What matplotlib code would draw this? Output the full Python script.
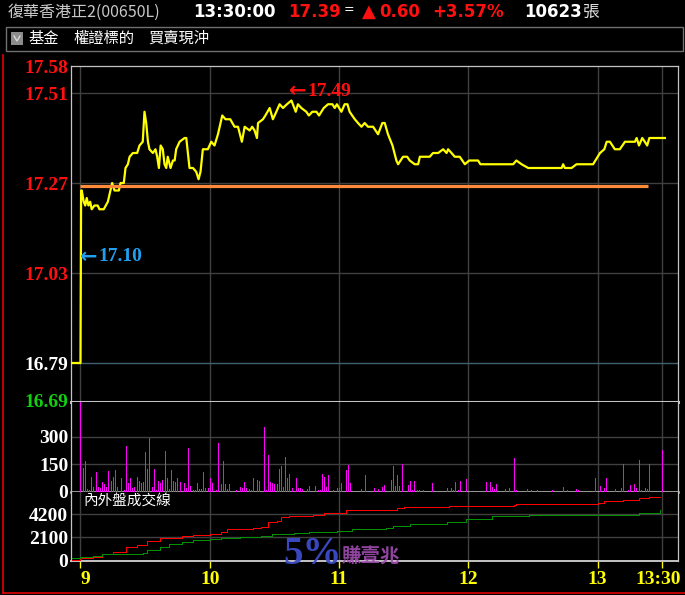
import matplotlib.pyplot as plt
import matplotlib.transforms as mtransforms
from matplotlib.patches import Rectangle
from matplotlib.lines import Line2D

plt.rcParams['font.family'] = ['DejaVu Sans', 'Noto Sans CJK TC']

# minutes after 09:00
price_t = [-4, 0, 0.3, 0.6, 1.5, 2.2, 2.9, 3.7, 4.5, 5.2,
           6.5, 8.0, 8.8, 10.8, 12.7, 13.9, 14.7, 15.8, 17.8, 18.6,
           20.1, 20.9, 22.0, 22.8, 24.3, 26.3, 27.4, 28.9, 29.7, 30.5,
           31.3, 32.0, 33.6, 34.8, 35.6, 36.4, 37.2, 38.2, 39.0, 39.8,
           40.5, 41.8, 42.9, 43.7, 44.4, 46.0, 48.3, 49.1, 50.6, 52.2,
           53.7, 54.8, 55.7, 56.8, 59.1, 60.7, 62.2, 63.8, 65.8, 67.3,
           69.5, 71.5, 73.1, 74.9, 76.2, 78.5, 79.7, 80.8, 81.9, 82.4,
           84.7, 85.8, 87.8, 89.3, 90.9, 92.4, 94.0, 95.8, 97.9, 99.9,
           100.9, 102.5, 104.8, 106.0, 107.6, 109.5, 110.7, 112.9, 114.9, 116.9,
           118.0, 119.0, 121.1, 122.6, 123.9, 124.9, 127.3, 128.8, 130.4, 131.9,
           133.4, 135.8, 138.1, 140.1, 141.2, 142.7, 144.8, 146.6, 147.4, 149.7,
           151.6, 152.8, 155.1, 156.7, 157.5, 162.1, 163.6, 166.0, 168.3, 169.9,
           170.6, 172.2, 173.7, 176.0, 178.4, 180.4, 184.5, 185.6, 200.8, 202.3,
           204.7, 207.8, 223.3, 224.0, 224.8, 227.9, 230.2, 237.9, 241.1, 243.1,
           244.2, 245.7, 248.0, 250.3, 252.7, 257.3, 258.1, 259.2, 260.7, 261.9,
           263.0, 264.0, 269.7, 270.2, 271.2]
price_v = [16.79, 16.79, 17.25, 17.25, 17.22, 17.21, 17.23, 17.21, 17.22, 17.20,
           17.21, 17.21, 17.20, 17.20, 17.22, 17.25, 17.27, 17.25, 17.25, 17.27,
           17.27, 17.31, 17.32, 17.34, 17.35, 17.35, 17.37, 17.38, 17.46, 17.43,
           17.38, 17.36, 17.35, 17.36, 17.34, 17.31, 17.37, 17.36, 17.32, 17.31,
           17.34, 17.31, 17.33, 17.33, 17.36, 17.38, 17.39, 17.39, 17.31, 17.31,
           17.30, 17.28, 17.30, 17.36, 17.36, 17.38, 17.37, 17.40, 17.45, 17.44,
           17.44, 17.42, 17.42, 17.38, 17.42, 17.41, 17.42, 17.41, 17.39, 17.43,
           17.44, 17.45, 17.47, 17.44, 17.46, 17.48, 17.47, 17.48, 17.49, 17.46,
           17.48, 17.47, 17.46, 17.45, 17.46, 17.46, 17.45, 17.47, 17.48, 17.48,
           17.47, 17.48, 17.46, 17.48, 17.48, 17.46, 17.44, 17.43, 17.42, 17.43,
           17.42, 17.42, 17.40, 17.43, 17.43, 17.40, 17.37, 17.33, 17.32, 17.34,
           17.34, 17.33, 17.32, 17.32, 17.34, 17.34, 17.35, 17.35, 17.36, 17.35,
           17.36, 17.35, 17.34, 17.34, 17.32, 17.33, 17.33, 17.32, 17.32, 17.33,
           17.32, 17.31, 17.31, 17.32, 17.31, 17.31, 17.32, 17.32, 17.35, 17.36,
           17.38, 17.38, 17.36, 17.36, 17.38, 17.38, 17.39, 17.37, 17.39, 17.38,
           17.37, 17.39, 17.39, 17.39, 17.39]

avg_price = 17.262
avg_end = 263.5
prev_close = 16.79
high_t, high_p = 97.9, 17.49
low_t, low_p = 0, 17.10

vol_t = [0, 1, 2, 3, 4, 5, 6, 7, 8, 9, 10, 11, 12, 13, 14, 15, 16, 17, 19, 20,
         21, 22, 23, 24, 25, 26, 27, 28, 29, 30, 31, 32, 33, 34, 35, 36, 37, 38, 39, 40,
         41, 42, 43, 44, 45, 46, 48, 49, 50, 51, 52, 53, 54, 55, 56, 57, 58, 59, 60, 61,
         63, 64, 65, 66, 67, 68, 69, 72, 74, 75, 76, 77, 78, 79, 80, 82, 83, 85, 86, 87,
         88, 89, 90, 91, 92, 93, 94, 95, 96, 97, 98, 100, 101, 102, 103, 105, 106, 109, 110, 111,
         112, 113, 114, 115, 117, 119, 120, 121, 123, 124, 125, 130, 132, 136, 138, 140, 141, 144, 145, 146,
         147, 148, 149, 152, 153, 154, 155, 156, 157, 159, 163, 170, 172, 173, 174, 175, 176, 179, 188, 190,
         191, 192, 193, 197, 199, 201, 202, 207, 209, 212, 219, 224, 226, 230, 231, 239, 241, 243, 244, 248,
         251, 252, 254, 255, 257, 258, 259, 260, 262, 263, 264, 270]
vol_v = [600, 126, 167, 9, 6, 76, 20, 106, 20, 15, 50, 39, 20, 111, 56, 80, 117, 20, 74, 6,
         250, 43, 70, 15, 20, 80, 56, 43, 50, 217, 124, 294, 20, 124, 6, 56, 43, 63, 224, 70,
         13, 117, 56, 50, 70, 50, 46, 15, 239, 28, 6, 6, 46, 13, 13, 106, 17, 17, 70, 46,
         6, 267, 37, 167, 37, 13, 37, 6, 22, 17, 50, 17, 13, 6, 70, 63, 56, 356, 6, 200,
         50, 46, 37, 37, 124, 141, 22, 189, 70, 96, 17, 70, 17, 17, 13, 13, 30, 30, 6, 6,
         96, 80, 22, 87, 6, 17, 17, 46, 117, 144, 43, 13, 89, 17, 13, 20, 33, 61, 139, 30,
         89, 30, 150, 35, 57, 6, 57, 6, 6, 6, 46, 15, 15, 6, 52, 6, 57, 67, 52, 52,
         24, 13, 41, 9, 15, 183, 6, 11, 6, 6, 6, 24, 6, 9, 6, 72, 30, 15, 72, 9,
         15, 150, 6, 33, 41, 15, 172, 6, 15, 9, 150, 228]

out_t = [-4, 0, 6, 10, 15, 21, 26, 31, 37, 41, 47, 52, 60, 65, 68, 80, 84, 87, 91, 93,
         97, 108, 113, 123, 147, 150, 171, 201, 202, 238, 240, 243, 252, 259, 264, 269]
out_v = [0, 150, 300, 520, 760, 1160, 1370, 1760, 1980, 2040, 2190, 2280, 2370, 2580, 2800, 2900, 3040, 3500, 3590, 3900,
         4050, 4110, 4260, 4560, 4720, 4810, 4930, 5020, 5110, 5110, 5230, 5390, 5480, 5630, 5720, 5720]
in_t = [-4, 0, 6, 10, 21, 29, 31, 37, 41, 47, 52, 60, 65, 74, 84, 89, 99, 106, 119, 126,
        142, 145, 153, 170, 179, 191, 208, 253, 259, 264, 269]
in_v = [150, 300, 390, 520, 550, 670, 910, 1160, 1430, 1670, 1830, 1920, 2040, 2130, 2190, 2370, 2430, 2580, 2680, 2800,
        2900, 3100, 3290, 3500, 3770, 3990, 4110, 4110, 4260, 4320, 4560]

grid_t = [0, 60, 120, 180, 240, 270]
time_labels = ['9', '10', '11', '12', '13', '13:30']
price_ticks = [17.58, 17.51, 17.27, 17.03, 16.79, 16.69]
price_tick_colors = ['#ff1010', '#ff1010', '#ff1010', '#ff1010', '#ffffff', '#10d010']
vol_ticks = [0, 150, 300]
io_ticks = [0, 2100, 4200]

W, H = 685, 595


def fx(x):
    return x / W


def fy(y):
    return 1 - y / H


GRID = '#404040'
FRAME = '#c4c4c4'
num_font = dict(family=['Liberation Serif', 'DejaVu Sans'], weight='bold', size=14)
arrow_font = dict(family='DejaVu Sans', weight='bold', size=15)

fig = plt.figure(figsize=(6.85, 5.95), dpi=100, facecolor='black')
left, right = fx(71), fx(678)
ax_p = fig.add_axes([left, fy(402), right - left, fy(66) - fy(402)])
ax_v = fig.add_axes([left, fy(492), right - left, fy(402) - fy(492)], sharex=ax_p)
ax_io = fig.add_axes([left, fy(561), right - left, fy(492) - fy(561)], sharex=ax_p)

for ax in (ax_p, ax_v, ax_io):
    ax.set_facecolor('black')
    for t in grid_t:
        ax.axvline(t, color=GRID, lw=1, zorder=0)
    for s in ('left', 'right', 'top'):
        ax.spines[s].set_color(FRAME)
        ax.spines[s].set_linewidth(0.9)
    ax.spines['bottom'].set_color(FRAME)
    ax.tick_params(axis='y', length=0, pad=2)
    ax.tick_params(axis='x', bottom=False, labelbottom=False)

ax_p.set_xlim(-4.4, 277.3)

# price panel
ax_p.set_ylim(16.686, 17.582)
for p in price_ticks[1:4]:
    ax_p.axhline(p, color=GRID, lw=1, zorder=0)
ax_p.axhline(prev_close, color='#3e6070', lw=1, zorder=0)
ax_p.plot(price_t, price_v, color='#ffff00', lw=1.6, zorder=3)
ax_p.hlines(avg_price, 0, avg_end, color='#ff8a3a', lw=2.3, zorder=4)
ax_p.set_yticks(price_ticks)
ax_p.set_yticklabels(['%.2f' % p for p in price_ticks], **num_font)
for lab, c in zip(ax_p.get_yticklabels(), price_tick_colors):
    lab.set_color(c)
ax_p.spines['bottom'].set_linewidth(2.2)

# high / low markers: arrow then value
for (t, p, dy, c) in [(high_t, high_p, 9, '#ff1010'), (low_t, low_p, -10, '#20a0f0')]:
    ax_p.annotate('\u2190', xy=(t, p), xytext=(-2 if dy > 0 else 0, dy),
                  textcoords='offset pixels', color=c, ha='left', va='center',
                  zorder=6, **arrow_font)
    ax_p.annotate('%.2f' % p, xy=(t, p), xytext=(16 if dy > 0 else 18, dy),
                  textcoords='offset pixels', color=c, ha='left', va='center',
                  zorder=6, **num_font)

# volume panel
ax_v.set_ylim(-5, 494)
for v in vol_ticks[1:]:
    ax_v.axhline(v, color=GRID, lw=1, zorder=0)
ax_v.vlines(vol_t, 0, vol_v, color='#ff00ff', lw=0.72, zorder=3, antialiased=False)
ax_v.set_yticks(vol_ticks)
ax_v.set_yticklabels([str(v) for v in vol_ticks], color='white', **num_font)
ax_v.spines['top'].set_visible(False)
ax_v.spines['bottom'].set_linewidth(1.8)

# inner / outer volume panel
ax_io.set_ylim(-90, 6210)
for v in io_ticks[1:]:
    ax_io.axhline(v, color=GRID, lw=1, zorder=0)
ax_io.step(out_t, out_v, where='post', color='#ff0000', lw=0.72, zorder=3, antialiased=False)
ax_io.step(in_t, in_v, where='post', color='#009000', lw=0.72, zorder=3, antialiased=False)
ax_io.set_yticks(io_ticks)
ax_io.set_yticklabels([str(v) for v in io_ticks], color='white', **num_font)
ax_io.spines['top'].set_visible(False)
ax_io.spines['bottom'].set_linewidth(1.4)
ax_io.set_xticks(grid_t)
ax_io.tick_params(axis='x', bottom=True, length=5, width=1, color='#ffff00',
                  direction='out', labelbottom=False)
ax_io.text(0.02, 0.88, '內外盤成交線', transform=ax_io.transAxes, color='white',
           fontsize=10.5, family='Noto Sans CJK TC', va='center', ha='left')

# time labels
trans = mtransforms.blended_transform_factory(ax_io.transData, fig.transFigure)
for t, lab in zip(grid_t[:-1], time_labels[:-1]):
    ax_io.text(t, fy(580), lab, transform=trans, color='#ffff00',
               ha='left' if t == 0 else 'center', va='center', clip_on=False, **num_font)
fig.text(fx(681), fy(580), time_labels[-1], color='#ffff00', ha='right', va='center', **num_font)

# watermark
fig.text(fx(283), fy(555), '5%', color='#3c4cc8', fontsize=28, family='Liberation Serif',
         weight='bold', va='center', ha='left', alpha=0.95)
fig.text(fx(342), fy(557), '賺壹兆', color='#a04cb0', fontsize=14, family='Noto Sans CJK TC',
         weight='bold', va='center', ha='left', alpha=0.9)

# header
bold = dict(family='DejaVu Sans', weight='bold', size=12, va='center', ha='left')
fig.text(fx(8), fy(12), '復華香港正2(00650L)', color='#c8c8c8', fontsize=11.5,
         family='Noto Sans CJK TC', va='center', ha='left')
fig.text(fx(193), fy(12), '13:30:00', color='white', **bold)
fig.text(fx(288), fy(12), '17.39', color='#ff1010', **bold)
fig.text(fx(344), fy(10), '=', color='white', fontsize=9, va='center', ha='left')
fig.text(fx(362), fy(12), '\u25b2', color='#ff1010', fontsize=13, va='center', ha='left')
fig.text(fx(379), fy(12), '0.60', color='#ff1010', **bold)
fig.text(fx(432), fy(12), '+3.57%', color='#ff1010', **bold)
fig.text(fx(524), fy(12), '10623', color='white', **bold)
fig.text(fx(583), fy(12), '張', color='#e0e0e0', fontsize=12, family='Noto Sans CJK TC',
         va='center', ha='left')

fig.add_artist(Rectangle((fx(6), fy(51)), fx(683) - fx(6), fy(27) - fy(51), fill=False,
                         edgecolor='#707070', lw=1, transform=fig.transFigure))
fig.add_artist(Rectangle((fx(11), fy(45)), fx(23) - fx(11), fy(32) - fy(45),
                         facecolor='#8c8c8c', edgecolor='none', transform=fig.transFigure))
fig.add_artist(Line2D([fx(14), fx(17), fx(20)], [fy(36), fy(41), fy(36)], color='#d8d8d8', lw=1))
fig.text(fx(28), fy(38), '基金', color='white', fontsize=11, family='Noto Sans CJK TC',
         va='center', ha='left')
fig.text(fx(73), fy(38), '權證標的', color='white', fontsize=11, family='Noto Sans CJK TC',
         va='center', ha='left')
fig.text(fx(148), fy(38), '買賣現沖', color='white', fontsize=11, family='Noto Sans CJK TC',
         va='center', ha='left')

# red frame at left and bottom
fig.add_artist(Line2D([fx(2.5), fx(2.5)], [fy(55), fy(593)], color='#e00000', lw=1.2))
fig.add_artist(Line2D([fx(2.5), fx(685)], [fy(593), fy(593)], color='#e00000', lw=1.2))

fig.savefig('out.png', dpi=100, facecolor='black')
